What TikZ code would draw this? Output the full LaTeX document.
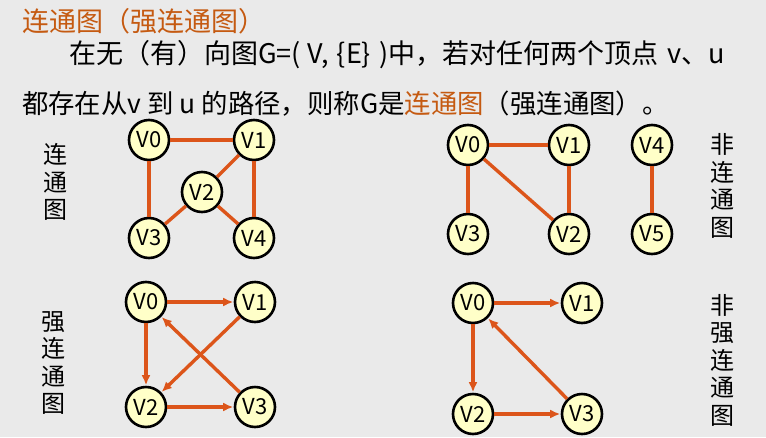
\documentclass[tikz,border=0pt]{standalone}
\usepackage{fontspec}
\setmainfont{Noto Sans CJK SC}
\usetikzlibrary{arrows.meta}
\definecolor{titleorange}{HTML}{C55A11}
\definecolor{edgeorange}{HTML}{DC551A}
\definecolor{vfill}{HTML}{FFFFC8}
\definecolor{bggray}{HTML}{EAEAEA}

\begin{document}
\begin{tikzpicture}[x=1pt, y=-1pt, >={Latex[length=10pt,width=9pt]},
  vtx/.style={draw, circle, line width=2.6pt, fill=vfill, minimum size=40pt, inner sep=0pt, font=\fontsize{22}{22}\selectfont},
  con/.style={draw=edgeorange, line width=3.4pt},
  dcon/.style={con, ->, shorten >=0.5pt},
  vlabel/.style={align=center, inner sep=0pt, font=\fontsize{24}{27.5}\selectfont},
  textline/.style={anchor=west, inner sep=0pt, font=\fontsize{27}{27}\selectfont}]
\fill[bggray] (0,0) rectangle (766,437);
\useasboundingbox (0,0) rectangle (766,437);

% heading and definition
\node[textline, text=titleorange] (title) at (22,21) {连通图（强连通图）};
\node[textline] (line1) at (69,55) {在无（有）向图G=(\hspace{7pt}V,\hspace{8pt}\{E\}\hspace{8pt})中，若对任何两个顶点\hspace{9pt}v、u};
\node[textline, font=\fontsize{26.4}{27}\selectfont] (line2) at (22,104) {都存在从v 到 u 的路径，则称G是\textcolor{titleorange}{连通图}（强连通图）。};

% connected, undirected
\node[vlabel] (lc) at (55,182) {连\\通\\图};
\node[vtx] (c0) at (149,140) {V0};
\node[vtx] (c1) at (254,140) {V1};
\node[vtx] (c2) at (202,192) {V2};
\node[vtx] (c3) at (149,238) {V3};
\node[vtx] (c4) at (254,238) {V4};
\draw[con] (c0) -- (c1);
\draw[con] (c0) -- (c3);
\draw[con] (c1) -- (c2);
\draw[con] (c1) -- (c4);
\draw[con] (c2) -- (c3);
\draw[con] (c2) -- (c4);

% not connected
\node[vlabel] (ln) at (722,186) {非\\连\\通\\图};
\node[vtx] (n0) at (468,145) {V0};
\node[vtx] (n1) at (569,145) {V1};
\node[vtx] (n2) at (569,234) {V2};
\node[vtx] (n3) at (468,234) {V3};
\node[vtx] (n4) at (652,145) {V4};
\node[vtx] (n5) at (652,234) {V5};
\draw[con] (n0) -- (n1);
\draw[con] (n0) -- (n3);
\draw[con] (n0) -- (n2);
\draw[con] (n1) -- (n2);
\draw[con] (n4) -- (n5);

% strongly connected
\node[vlabel] (ls) at (53,363) {强\\连\\通\\图};
\node[vtx] (s0) at (146,302) {V0};
\node[vtx] (s1) at (255,302) {V1};
\node[vtx] (s2) at (146,407) {V2};
\node[vtx] (s3) at (255,407) {V3};
\draw[dcon] (s0) -- (s1);
\draw[dcon] (s0) -- (s2);
\draw[dcon] (s1) -- (s2);
\draw[dcon] (s2) -- (s3);
\draw[dcon] (s3) -- (s0);

% not strongly connected
\node[vlabel] (lw) at (722,360) {非\\强\\连\\通\\图};
\node[vtx] (w0) at (473,303) {V0};
\node[vtx] (w1) at (582,303) {V1};
\node[vtx] (w2) at (473,414) {V2};
\node[vtx] (w3) at (582,414) {V3};
\draw[dcon] (w0) -- (w1);
\draw[dcon] (w0) -- (w2);
\draw[dcon] (w2) -- (w3);
\draw[dcon] (w3) -- (w0);
\end{tikzpicture}
\end{document}
